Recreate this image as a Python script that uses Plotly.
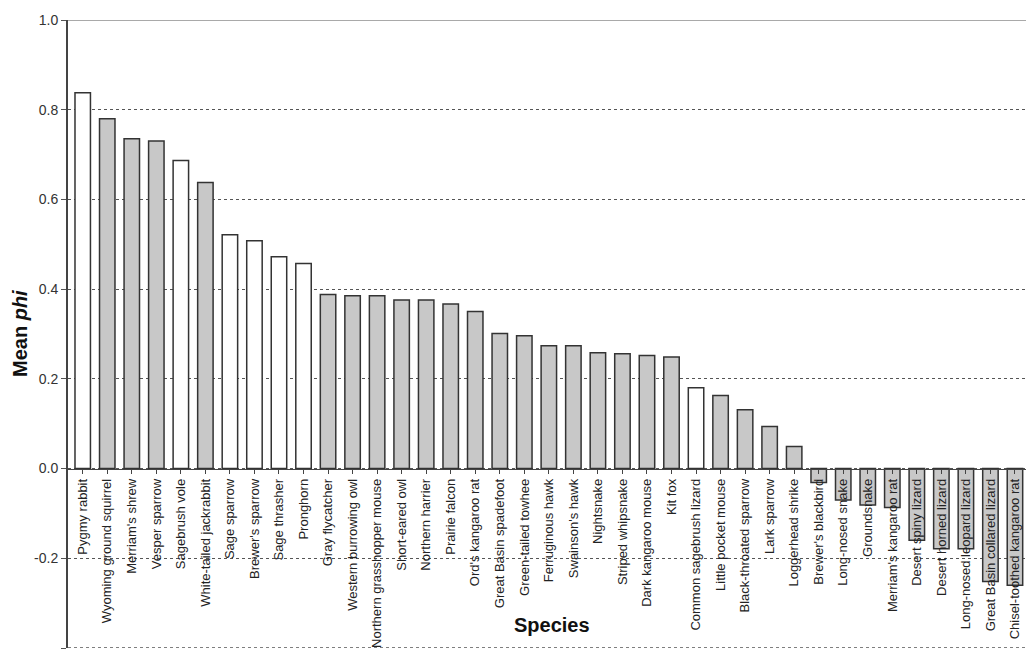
import plotly.graph_objects as go

species = [
    "Pygmy rabbit", "Wyoming ground squirrel", "Merriam's shrew", "Vesper sparrow",
    "Sagebrush vole", "White-tailed jackrabbit", "Sage sparrow", "Brewer's sparrow",
    "Sage thrasher", "Pronghorn", "Gray flycatcher", "Western burrowing owl",
    "Northern grasshopper mouse", "Short-eared owl", "Northern harrier", "Prairie falcon",
    "Ord's kangaroo rat", "Great Basin spadefoot", "Green-tailed towhee", "Ferruginous hawk",
    "Swainson's hawk", "Nightsnake", "Striped whipsnake", "Dark kangaroo mouse", "Kit fox",
    "Common sagebrush lizard", "Little pocket mouse", "Black-throated sparrow", "Lark sparrow",
    "Loggerhead shrike", "Brewer's blackbird", "Long-nosed snake", "Groundsnake",
    "Merriam's kangaroo rat", "Desert spiny lizard", "Desert horned lizard",
    "Long-nosed leopard lizard", "Great Basin collared lizard", "Chisel-toothed kangaroo rat",
]
mean_phi = [
    0.838, 0.780, 0.735, 0.730, 0.687, 0.638, 0.521, 0.508, 0.472, 0.457,
    0.388, 0.385, 0.385, 0.376, 0.376, 0.367, 0.350, 0.301, 0.296, 0.274,
    0.274, 0.258, 0.256, 0.252, 0.249, 0.180, 0.163, 0.131, 0.094, 0.049,
    -0.031, -0.070, -0.081, -0.087, -0.160, -0.179, -0.179, -0.252, -0.260,
]
# True = white bar, False = gray bar
obligate = [
    True, False, False, False, True, False, True, True, True, True,
    False, False, False, False, False, False, False, False, False, False,
    False, False, False, False, False, True, False, False, False, False,
    False, False, False, False, False, False, False, False, False,
]
y_ticks = [1.0, 0.8, 0.6, 0.4, 0.2, 0.0, -0.2, -0.4]

fill_colors = ["#ffffff" if o else "#c8c8c8" for o in obligate]
x_idx = list(range(len(species)))

fig = go.Figure()
fig.add_trace(go.Bar(
    x=x_idx, y=mean_phi,
    marker=dict(color=fill_colors, line=dict(color="#333333", width=1.5)),
    width=0.63,
    showlegend=False,
))

FONT = "Liberation Sans, Arial, sans-serif"
ymin, ymax = -0.4, 1.0

fig.update_layout(
    width=1026, height=654,
    margin=dict(l=68, r=0, t=20, b=6),
    paper_bgcolor="white", plot_bgcolor="white",
    font=dict(family=FONT, color="#222222"),
    xaxis=dict(
        range=[-0.6, 38.45],
        tickmode="array", tickvals=x_idx, ticktext=species,
        tickangle=-90, tickfont=dict(size=13, family=FONT, color="#222222"),
        ticklabeloverflow="allow",
        anchor="free", position=(0 - ymin) / (ymax - ymin),
        showline=True, linecolor="#444444", linewidth=1.2,
        ticks="outside", tickson="boundaries", ticklen=4, tickcolor="#444444",
        showgrid=False, zeroline=False, automargin=False,
    ),
    yaxis=dict(
        range=[ymin, ymax],
        tickmode="array", tickvals=y_ticks, ticktext=[f"{v:.1f}" for v in y_ticks],
        tickfont=dict(size=14, family=FONT, color="#333333"),
        ticks="outside", ticklen=5, tickcolor="#555555",
        showline=True, linecolor="#444444", linewidth=2,
        showgrid=True, gridcolor="#555555", griddash="dot", gridwidth=1,
        zeroline=False, automargin=False,
    ),
    annotations=[
        dict(text="<b>Species</b>", xref="paper", yref="paper", x=0.505, y=0.0,
             yshift=23, showarrow=False, font=dict(size=20, family=FONT, color="#111111"),
             yanchor="middle"),
        dict(text="<b>Mean <i>phi</i></b>", xref="paper", yref="paper", x=0, y=0.5,
             xshift=-48, textangle=-90, showarrow=False,
             font=dict(size=20, family=FONT, color="#111111"), xanchor="center"),
    ],
    shapes=[
        dict(type="line", xref="paper", yref="y", x0=0, x1=1, y0=ymax, y1=ymax,
             line=dict(color="#555555", width=1)),
        dict(type="line", xref="paper", yref="y", x0=0, x1=1, y0=ymin, y1=ymin,
             line=dict(color="#555555", width=1.5, dash="dot")),
    ],
)

fig.write_html(
    "out.html",
    config={"displayModeBar": False},
    post_script="document.body.style.margin='0';document.body.style.overflow='hidden';",
)
